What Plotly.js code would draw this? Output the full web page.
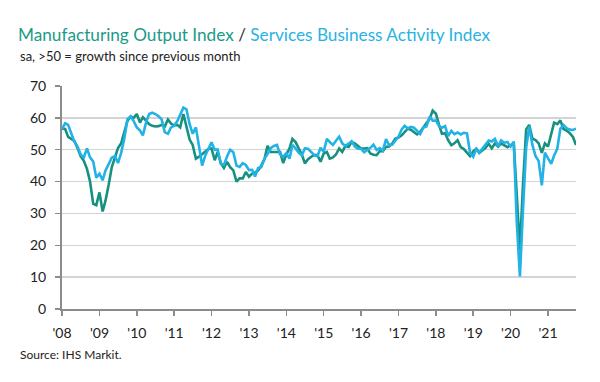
<!DOCTYPE html>
<html>
<head>
<meta charset="utf-8">
<script src="https://cdn.plot.ly/plotly-3.0.1.min.js"></script>
<style>
html,body{margin:0;padding:0;background:#fff;}
#chart{width:600px;height:382px;}
</style>
</head>
<body>
<div id="chart"></div>
<script>
// Monthly series, Jan 2008 – Oct 2021
const startYear = 2008;
const manufacturingOutput = [
  56.6, 56.5, 54.0, 53.5, 52.8, 50.5, 48.0, 46.5, 44.0, 40.0, 33.0, 32.6,
  36.6, 30.6, 34.0, 39.0, 44.5, 47.5, 50.5, 52.0, 55.5, 59.0, 60.4, 60.0,
  61.2, 58.5, 60.2, 59.2, 58.0, 57.5, 57.3, 57.4, 57.8, 57.3, 59.5, 58.2,
  57.6, 57.8, 57.0, 61.2, 56.8, 53.2, 51.5, 47.2, 47.8, 48.5, 49.3, 50.2,
  50.4, 46.7, 49.3, 45.8, 44.3, 46.2, 44.5, 43.5, 40.0, 41.0, 41.0, 43.0,
  41.5, 42.5, 42.8, 43.5, 45.0, 47.0, 51.2, 49.3, 49.3, 49.3, 49.3, 45.8,
  48.5, 50.4, 53.4, 52.4, 50.3, 48.5, 45.7, 47.0, 47.8, 48.3, 48.3, 46.2,
  48.8, 49.3, 47.2, 47.6, 48.5, 50.4, 49.3, 51.2, 50.9, 52.4, 52.0, 51.2,
  50.4, 50.4, 50.5, 48.8, 48.4, 48.3, 49.5, 49.5, 50.9, 51.0, 52.0, 53.5,
  53.8, 54.5, 55.6, 56.6, 56.3, 55.6, 54.8, 55.6, 57.1, 58.3, 59.7, 62.3,
  61.3, 57.8, 55.0, 55.2, 53.0, 51.4, 52.0, 53.0, 50.8, 50.2, 49.0, 48.0,
  49.5, 50.3, 49.0, 49.8, 50.6, 51.9, 50.4, 52.0, 51.0, 52.0, 51.5, 50.8,
  51.4, 52.0, 36.0, 18.5, 39.0, 56.4, 57.8, 53.5, 53.0, 52.0, 49.0, 52.0,
  51.0, 55.0, 58.5, 58.0, 59.2, 56.5, 56.0, 55.2, 54.0, 51.5
];
const servicesActivity = [
  56.5, 58.3, 57.8, 55.0, 52.5, 51.0, 48.5, 47.6, 50.4, 47.6, 46.3, 41.2,
  42.5, 40.4, 43.5, 45.5, 47.5, 48.0, 45.8, 49.0, 53.5, 59.5, 60.5, 59.0,
  57.0, 56.0, 54.5, 58.5, 61.2, 61.6, 61.2, 60.5, 59.5, 55.5, 55.0, 57.0,
  57.5, 59.0, 61.0, 63.2, 62.7, 58.0, 55.0, 57.0, 51.0, 45.0, 48.2, 50.5,
  52.3, 50.0, 50.1, 45.5, 45.2, 47.9, 50.0, 49.2, 45.0, 44.6, 45.8, 45.2,
  43.6, 43.7, 41.6, 44.3, 44.5, 47.2, 48.6, 50.5, 51.2, 51.5, 48.5, 47.8,
  48.9, 47.2, 51.5, 50.4, 49.1, 48.2, 50.4, 50.3, 49.4, 48.3, 47.9, 50.6,
  49.4, 53.4, 52.4, 51.5, 52.8, 54.1, 52.0, 51.2, 51.9, 52.7, 51.0, 50.3,
  50.3, 49.2, 49.9, 50.6, 51.6, 49.9, 50.5, 49.7, 53.3, 51.4, 51.6, 52.9,
  54.1, 56.4, 57.5, 56.7, 57.2, 56.9, 56.0, 54.9, 57.0, 57.3, 60.4, 59.1,
  59.2, 57.4, 56.9, 57.4, 54.3, 55.9, 54.9, 55.4, 54.8, 55.3, 55.1, 49.0,
  47.8, 50.2, 49.1, 50.5, 51.5, 52.9, 52.6, 53.4, 51.1, 52.9, 52.2, 52.4,
  51.0, 52.5, 27.4, 10.2, 31.1, 50.7, 57.3, 51.5, 48.0, 46.5, 38.8, 49.1,
  47.3, 45.6, 48.2, 50.3, 56.6, 57.8, 56.8, 56.3, 56.2, 56.6
];
const tickYears = [2008,2009,2010,2011,2012,2013,2014,2015,2016,2017,2018,2019,2020,2021];
const tickLabels = ["'08","'09","'10","'11","'12","'13","'14","'15","'16","'17","'18","'19","'20","'21"];
const yTicks = [0,10,20,30,40,50,60,70];

function monthDate(i){
  const y = startYear + Math.floor(i/12);
  const m = (i % 12) + 1;
  return y + '-' + (m < 10 ? '0' + m : m) + '-01';
}
const dates = manufacturingOutput.map((_, i) => monthDate(i));
const tickVals = tickYears.map(y => y + '-01-01');

const teal = '#17917f';
const cyan = '#22b2e6';
const font = 'Lato, "Noto Sans", sans-serif';

const traces = [
  {x: dates, y: manufacturingOutput, type: 'scatter', mode: 'lines',
   line: {color: teal, width: 2.6}, name: 'Manufacturing Output Index', hoverinfo: 'skip'},
  {x: dates, y: servicesActivity, type: 'scatter', mode: 'lines',
   line: {color: cyan, width: 2.6}, name: 'Services Business Activity Index', hoverinfo: 'skip'}
];

const layout = {
  width: 600, height: 382,
  paper_bgcolor: '#fff', plot_bgcolor: '#fff',
  margin: {l: 62, r: 23.5, t: 86, b: 72.5},
  showlegend: false,
  font: {family: font, color: '#222'},
  title: {
    text: '<span style="color:#1b9a8a">Manufacturing Output Index</span> / <span style="color:#27b3e3">Services Business Activity Index</span>',
    font: {family: font, size: 17.2, color: '#333'},
    x: 18/600, xref: 'container', xanchor: 'left',
    y: 1 - 35/382, yref: 'container', yanchor: 'middle'
  },
  xaxis: {
    type: 'date',
    range: [dates[0], dates[dates.length - 1]],
    tickvals: tickVals, ticktext: tickLabels,
    showgrid: false, zeroline: false,
    showline: true, linecolor: '#8c8c8c', linewidth: 2,
    ticks: 'outside', ticklen: 5, tickcolor: '#8c8c8c', tickwidth: 1.5,
    ticklabelstandoff: 5,
    tickfont: {family: font, size: 14, color: '#222'}
  },
  yaxis: {
    range: [0, 70], tickvals: yTicks,
    showgrid: true, gridcolor: '#d4d4d4', gridwidth: 1.5,
    zeroline: false,
    showline: true, linecolor: '#8c8c8c', linewidth: 2,
    ticks: 'outside', ticklen: 5, tickcolor: '#8c8c8c', tickwidth: 1.5,
    ticklabelstandoff: 6,
    tickfont: {family: font, size: 14, color: '#222'}
  },
  annotations: [
    {text: 'sa, >50 = growth since previous month', xref: 'paper', yref: 'paper',
     x: (18-62)/(600-62-23.5), y: 1 + (86-56)/(382-86-72.5), xanchor: 'left', yanchor: 'middle',
     showarrow: false, font: {family: font, size: 13, color: '#222'}},
    {text: 'Source: IHS Markit.', xref: 'paper', yref: 'paper',
     x: (18-62)/(600-62-23.5), y: -(355-309.5)/(382-86-72.5), xanchor: 'left', yanchor: 'middle',
     showarrow: false, font: {family: font, size: 12, color: '#222'}}
  ]
};

Plotly.newPlot('chart', traces, layout, {displayModeBar: false, staticPlot: true});
</script>
</body>
</html>
